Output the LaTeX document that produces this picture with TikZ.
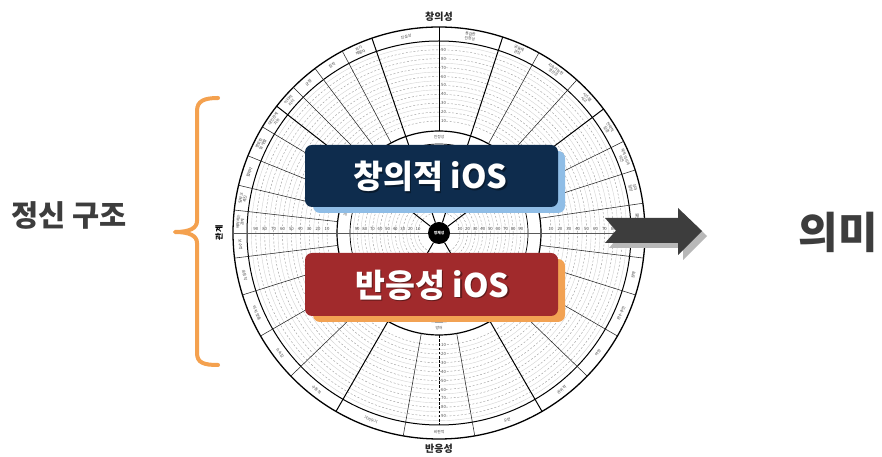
\documentclass[tikz,border=0pt]{standalone}
\usepackage{fontspec}
\setmainfont{Noto Sans CJK KR}
\usetikzlibrary{calc}
\definecolor{navy}{HTML}{0E2C4D}
\definecolor{lblue}{HTML}{8FBDE6}
\definecolor{dred}{HTML}{A12A2C}
\definecolor{orng}{HTML}{F2A253}
\definecolor{brace}{HTML}{F4A14F}
\definecolor{dgray}{HTML}{3D3D3D}
\definecolor{sgray}{HTML}{B8B8B8}
\tikzset{
  ringsoft/.style={draw=black!17, line width=0.4pt},
  ringdash/.style={draw=black!40, line width=0.4pt, dash pattern=on 2pt off 1.8pt},
  bigcircle/.style={draw=black, line width=1.2pt},
  dimline/.style={draw=black, line width=1pt},
  compline/.style={draw=black!85, line width=0.55pt},
  bandlab/.style={font=\fontsize{3.8}{4.3}\selectfont, align=center, inner sep=0pt, text=black!75},
  scalelab/.style={font=\fontsize{4.3}{5}\selectfont, inner sep=0.4pt, text=black!70},
  boxtext/.style={font=\fontsize{32.5}{34}\selectfont\bfseries, text=white, inner sep=0pt},
  boxshadowtext/.style={font=\fontsize{32.5}{34}\selectfont\bfseries, text=black, opacity=0.4, inner sep=0pt},
  bigbox/.style={rounded corners=7pt, minimum width=253pt, minimum height=62pt, inner sep=0pt},
  sidetext/.style={font=\bfseries, text=dgray, inner sep=0pt},
  poletext/.style={font=\fontsize{10}{11}\selectfont\bfseries, text=black!85, inner sep=0pt},
}
\begin{document}
\begin{tikzpicture}[x=1pt,y=1pt]
\useasboundingbox (0,0) rectangle (882,457);
\fill[white] (0,0) rectangle (882,457);
\coordinate (C) at (439,224);

% ---------- scale rings ----------
\foreach \v in {15,25,...,95} \draw[ringsoft] (C) circle[radius={112+(\v-10)*0.89}];
\foreach \v in {10,20,...,90} \draw[ringdash] (C) circle[radius={112+(\v-10)*0.89}];
\foreach \v in {15,25,...,95} \draw[ringsoft] (C) circle[radius={21+(\v-10)*0.76}];
\foreach \v in {10,20,...,90} \draw[ringdash] (C) circle[radius={21+(\v-10)*0.76}];

% ---------- main circles ----------
\draw[bigcircle, line width=1.3pt] (C) circle[radius=206];
\draw[bigcircle, line width=1pt] (C) circle[radius=192];
\draw[bigcircle] (C) circle[radius=102];
\draw[bigcircle, line width=0.7pt] (C) circle[radius=89];

% ---------- horizontal axis ----------
\draw[draw=black!65, line width=0.8pt] ($(C)+(-206,0)$) -- ($(C)+(206,0)$);

% ---------- dimension lines (centre to outer circle) ----------
\foreach \a in {37,72,109,142,240,300}
  \draw[dimline] ($(C)+(\a:11)$) -- ($(C)+(\a:206)$);
\draw[dimline] ($(C)+(90:102)$) -- ($(C)+(90:206)$);
\draw[dimline, line width=1pt, dash pattern=on 2.6pt off 1.6pt] ($(C)+(270:102)$) -- ($(C)+(270:192)$);

% ---------- competency lines ----------
\foreach \a in {8.3,17.8,26.4,48,61,118,127,135,149,158,166.6,173.6,187,197.5,210,224,260,280,316,330,342.5,353}
  \draw[compline] ($(C)+(\a:102)$) -- ($(C)+(\a:206)$);

% ---------- band labels (upper half) ----------
\foreach \a/\t in {4.15/결단력, 13.05/{성과\\달성}, 22.1/{목적의식과\\비전}, 31.7/{전략적\\집중},
  42.5/{시스템\\사고}, 54.5/{지속가능한\\생산성}, 66.5/{공동체\\관심}, 81/{용감한\\진정성},
  99.5/진실성, 113.5/{자기\\계발자}, 122.5/침착, 131/균형, 138.5/{이타적\\리더},
  145.5/{대인관계\\지능}, 153.5/{멘토링\\및 개발}, 162.3/협력자, 170.1/{팀워크\\촉진}, 176.8/{배려하는\\관계}}
  \node[bandlab, rotate=\a-90] at ($(C)+(\a:199)$) {\t};
% ---------- band labels (lower half) ----------
\foreach \a/\t in {183.5/보수적, 192.25/순응적, 203.75/{비위 맞춤}, 217/소속감, 232/수동적,
  250/거리두기, 270/비판적, 290/오만, 308/권위적, 323/야망, 336.25/{완수 추진}, 347.75/완벽}
  \node[bandlab, rotate=\a+90] at ($(C)+(\a:199)$) {\t};

% ---------- inner band labels (visible ones) ----------
\node[bandlab] (authin) at ($(C)+(90:95.5)$) {진정성};
\node[bandlab] (protin) at ($(C)+(270:95.5)$) {방어};
\node[bandlab, rotate=78] (relin) at ($(C)+(168:95.5)$) {관계};

% ---------- scale numbers ----------
\foreach \v in {10,20,...,90} {
  \pgfmathsetmacro\r{112+(\v-10)*0.89}
  \pgfmathsetmacro\q{21+(\v-10)*0.76}
  \node[scalelab] (ol\v) at ($(C)+(-\r,4)$) {\v};
  \node[scalelab] (or\v) at ($(C)+(\r,4)$) {\v};
  \node[scalelab] (il\v) at ($(C)+(-\q,4)$) {\v};
  \node[scalelab] (ir\v) at ($(C)+(\q,4)$) {\v};
  \node[scalelab, fill=white, anchor=west] (ot\v) at ($(C)+(1.6,\r)$) {\v};
  \node[scalelab, fill=white, anchor=west] (ob\v) at ($(C)+(1.6,-\r)$) {\v};
}

% ---------- centre ----------
\node[circle, fill=black, minimum size=22pt, inner sep=0pt, text=white,
      font=\fontsize{3.8}{4}\selectfont\bfseries] (core) at (C) {정체성};

% ---------- pole labels ----------
\node[poletext] (top) at (439,440) {창의성};
\node[poletext] (bottom) at (439,8) {반응성};
\node[font=\fontsize{8}{8}\selectfont\bfseries, rotate=90, inner sep=0pt] (rel) at (219,224) {관계};

% ---------- boxes ----------
\fill[lblue, rounded corners=7pt] (313,244) rectangle (565,306);
\node[bigbox, fill=navy] (cbox) at (431.5,281) {};
\node[boxshadowtext] at (431.9,279.1) {창의적 iOS};
\node[boxtext] (ctext) at (430.5,280.5) {창의적 iOS};

\fill[orng, rounded corners=7pt] (313,135) rectangle (565,198);
\node[bigbox, fill=dred, minimum height=63pt] (rbox) at (431.5,172.5) {};
\node[boxshadowtext] at (433.9,170.6) {반응성 iOS};
\node[boxtext] (rtext) at (432.5,172) {반응성 iOS};

% ---------- left brace ----------
\draw[brace, line width=4pt, line cap=round, line join=round]
  (218,359) .. controls (204,359) and (197,356) .. (197,346) -- (197,236)
  .. controls (197,229) and (190,225) .. (175,225)
  .. controls (190,225) and (197,221) .. (197,214) -- (197,104)
  .. controls (197,94) and (204,92) .. (218,92);
\node[sidetext, font=\fontsize{29.5}{31}\selectfont\bfseries] (mind) at (69,241) {정신 구조};

% ---------- arrow ----------
\fill[sgray] (609,234) -- (683,234) -- (683,244) -- (707,221) -- (683,197) -- (683,209) -- (609,209) -- (620,221.5) -- cycle;
\fill[dgray] (605,239) -- (678,239) -- (678,249) -- (702,226) -- (678,202) -- (678,214) -- (605,214) -- (616,226.5) -- cycle;
\node[sidetext, font=\fontsize{43}{45}\selectfont\bfseries] (meaning) at (838,225) {의미};
\end{tikzpicture}
\end{document}
